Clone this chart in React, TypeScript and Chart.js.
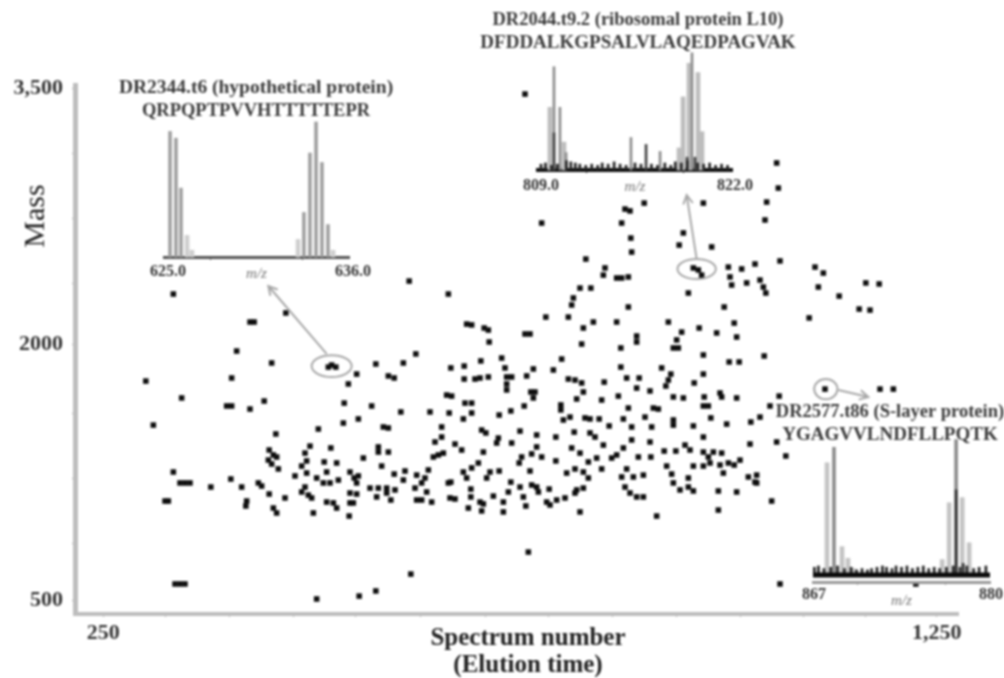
import React, { useEffect, useRef } from "react";
import { Chart, registerables } from "chart.js";

Chart.register(...registerables);

const SERIF = "'Liberation Serif', serif";

// Peptide features: [spectrum number, mass]
const peptidesHighMass: number[][] = [
  [756,3465],[1058,3061],[1060,2914],[1046,2832],[1044,2727],[876,2791],[882,2780],[899,2826],[970,2826],[776,2709],
  [872,2709],[883,2621],[884,2539],[946,2651],[941,2580],[980,2569],[829,2498],[852,2446],[850,2404],[866,2387],
  [872,2387],[880,2393],[958,2446],[964,2434],[968,2404],[1000,2451],[1016,2440],[1032,2469],[1062,2487],[1104,2451],
  [1114,2416],[1002,2393],[1004,2346],[1022,2358],[1038,2375],[1042,2334],[1045,2299],[1108,2334],[1133,2281],[1165,2358],
  [1181,2352],[1157,2205],[1170,2199],[1097,2153],[617,2369],[664,2293],[822,2328],[835,2328],[814,2270],[812,2229],
  [880,2217],[952,2299],[995,2217],[334,2293],[426,2129],[431,2129],[469,2182],[410,1959],
];
const peptidesUpperMiddle: number[][] = [
  [781,2158],[808,2158],[686,2117],[692,2112],[707,2094],[712,2082],[713,2012],[756,2059],[762,2059],[826,2094],
  [838,2129],[866,2129],[824,2000],[928,2129],[944,2070],[938,2024],[934,1977],[940,1977],[965,2094],[986,2065],
  [1007,2123],[1010,2041],[890,2012],[890,2047],[871,1977],[970,1936],[1001,1895],[1013,1895],[800,1912],[703,1901],
  [728,1918],[667,1860],[683,1871],[683,1795],[696,1795],[702,1801],[712,1807],[732,1860],[734,1807],[740,1807],
  [734,1766],[734,1731],[766,1854],[758,1813],[790,1848],[808,1795],[816,1789],[824,1772],[826,1719],[818,1678],
  [851,1777],[871,1865],[878,1801],[893,1801],[890,1742],[906,1725],[920,1860],[931,1824],[925,1754],[928,1789],
  [934,1690],[946,1684],[970,1824],[959,1772],[971,1690],[970,1637],[976,1637],[990,1713],[992,1690],[1010,1684],
  [763,1719],[768,1719],[766,1684],[755,1637],[662,1701],[668,1695],[692,1654],[684,1654],[692,1596],[682,1561],
  [642,1602],[665,1596],[725,1584],[739,1608],[799,1643],[799,1614],[848,1672],[868,1695],[880,1625],[910,1625],
  [916,1619],[802,1555],[810,1572],[828,1567],[834,1561],[845,1561],[874,1561],[900,1572],[857,1520],[884,1514],
  [908,1514],[934,1525],[934,1555],[958,1520],[979,1567],[998,1531],[1027,1543],[1043,1930],
];
const peptidesLowerMiddle: number[][] = [
  [970,1455],[656,1514],[704,1496],[709,1479],[750,1490],[770,1467],[793,1455],[815,1484],[834,1479],[840,1455],
  [648,1426],[672,1414],[680,1379],[652,1350],[646,1338],[658,1361],[724,1449],[722,1420],[740,1420],[706,1367],
  [770,1397],[812,1391],[822,1361],[850,1408],[884,1438],[906,1426],[874,1391],[866,1350],[892,1338],[907,1338],
  [923,1373],[937,1373],[948,1408],[954,1379],[1026,1414],[776,1338],[764,1356],[752,1338],[749,1303],[793,1315],
  [832,1309],[842,1332],[860,1332],[848,1268],[926,1285],[970,1367],[982,1367],[992,1361],[1000,1303],[1014,1320],
  [978,1303],[990,1291],[958,1285],[970,1285],[976,1338],[1007,1291],[994,1244],[1032,1191],[1024,1221],[988,1139],
  [1010,1133],[988,1027],[914,992],[822,1016],[760,781],[932,1238],[934,1186],[952,1215],[952,1162],[942,1145],
  [958,1139],[878,1268],[872,1221],[886,1221],[898,1232],[876,1162],[882,1127],[890,1104],[898,1104],[806,1244],
  [816,1268],[826,1250],[832,1215],[826,1156],[816,1127],[818,1145],[804,1098],[794,1086],[782,1074],[786,1057],
  [785,1150],[770,1162],[772,1133],[764,1174],[750,1162],[739,1191],[736,1133],[754,1104],[757,1051],[730,1074],
  [730,1016],[718,1109],[702,1074],[706,1063],[704,1022],[688,1039],[691,1150],[691,1104],[672,1092],[667,1191],
  [682,1250],[692,1274],[700,1303],[686,1215],[710,1215],[714,1250],[725,1256],[762,1256],[640,1262],[636,1215],
  [632,1186],[638,1133],[644,1074],[632,1086],
];
const peptidesRightEdge: number[][] = [
  [1061,1695],[1050,1637],[1038,1572],[1058,1426],[1069,1344],[1034,1232],[1034,1186],[1052,1080],[1062,594],[1116,1736],
  [1182,1736],[1198,1736],[1225,594],
];
const peptidesLeft: number[][] = [
  [452,1889],[301,1783],[404,1801],[520,1865],[524,1877],[529,1865],[577,1883],[610,1889],[625,1942],[554,1824],
  [544,1766],[592,1813],[599,1801],[344,1684],[398,1637],[404,1637],[426,1619],[443,1666],[539,1654],[572,1637],
  [607,1602],[310,1525],[457,1473],[508,1502],[538,1537],[556,1561],[586,1514],[592,1508],[656,1455],[498,1402],
  [523,1391],[449,1379],[454,1350],[458,1338],[448,1320],[460,1268],[452,1297],[492,1361],[494,1315],[488,1285],
  [480,1227],[494,1244],[515,1309],[530,1303],[518,1250],[562,1332],[580,1397],[580,1367],[592,1367],[584,1285],
  [546,1250],[556,1227],[551,1215],[506,1215],[514,1186],[522,1186],[532,1203],[492,1162],[488,1133],[496,1115],
  [500,1098],[554,1186],[546,1127],[554,1121],[546,1069],[550,1069],[518,1074],[526,1069],[530,1039],[502,1010],
  [545,992],[334,1250],[342,1186],[348,1186],[354,1186],[379,1162],[403,1209],[416,1162],[436,1186],[440,1168],
  [449,1121],[468,1098],[422,1080],[421,1051],[324,1080],[328,1080],[454,1039],[458,1010],[570,1156],[580,1156],
  [590,1156],[600,1145],[578,1104],[590,1127],[595,1086],[599,1238],[612,1256],[610,1203],[626,1232],[624,1156],
  [626,1086],[664,1186],[666,1098],[336,594],[342,594],[348,594],[619,652],[577,553],[557,523],[506,506],
];

const xTickValues = [250,324,401,478,553,631,708,784,861,938,1014,1090,1165,1250];
const xTickLabels: Record<number,string> = { 250: "250", 1250: "1,250" };
const yTickValues = [3500,3119,2738,2357,2000,1595,1214,833,500];
const yTickLabels: Record<number,string> = { 3500: "3,500", 2000: "2000", 500: "500" };
const xAxisTitle = ["Spectrum number", "(Elution time)"];
const yAxisTitle = "Mass";

// Callouts in data units: ellipse [cx, cy, rx, ry], arrow [x0, y0, x1, y1]
const calloutEllipses = [[524,1871,24,64],[962,2440,23,59],[1117,1736,14,59]];
const calloutArrows = [[518,1942,448,2340],[962,2498,950,2873],[1132,1731,1168,1690]];

// Inset 1
const inset1Title = ["DR2344.t6 (hypothetical protein)", "QRPQPTPVVHTTTTTEPR"];
const inset1StrongMz = [625.36,625.71,626.01,633.68,634.04,634.39,634.75,633.32];
const inset1StrongI = [93,88,51,77,100,70,24,33];
const inset1WeakMz = [626.37,626.66,632.97,635.05];
const inset1WeakI = [16,5,13,5];

// Inset 2
const inset2Title = ["DR2044.t9.2 (ribosomal protein L10)", "DFDDALKGPSALVLAQEDPAGVAK"];
const inset2LightMz = [809.8,810.74,818.45,818.72,819.12,819.72,819.99];
const inset2LightI = [54,24,19,63,92,84,33];
const inset2GrayMz = [810.07,810.47,810.88,815.23,817.18,819.32];
const inset2GrayI = [89,54,15,28,16,101];
const inset2DarkMz = [810.07,816.24,818.99,819.52];
const inset2DarkI = [32,22,11,11];
const inset2NoiseMz = [809.2,809.5,809.9,810.3,810.9,811.2,811.5,811.8,812.2,812.6,813,813.3,813.7,814.1,814.5,814.9,815.5,815.9,816.6,817,817.5,817.9,818.2,818.6,819,819.7,820.1,820.5,820.9,821.3,821.7];
const inset2NoiseI = [5,6,4,5,8,7,6,5,4,5,4,6,5,7,5,4,6,5,5,4,6,4,7,6,8,6,5,6,4,5,4];

// Inset 3
const inset3Title = ["DR2577.t86 (S-layer protein)", "YGAGVVLNDFLLPQTK"];
const inset3LightMz = [868.03,869.13,869.57,869.94,876.49,877,877.96,878.47];
const inset3LightI = [87,22,13,5,12,56,60,25];
const inset3GrayMz = [868.54,877.51];
const inset3GrayI = [99,105];
const inset3DarkMz = [877.51,878.03];
const inset3DarkI = [66,9];
const inset3NoiseMz = [867.1,867.4,867.8,868.3,868.8,869.3,869.8,870.2,870.6,871,871.3,871.7,872.1,872.4,872.8,873.1,873.5,873.9,874.3,874.7,875.1,875.5,875.9,876.3,876.8,877.3,877.8,878.3,878.8,879.2,879.7];
const inset3NoiseI = [6,7,5,6,7,5,6,4,5,4,5,6,7,6,5,7,6,7,5,6,7,5,6,5,6,7,6,7,5,6,7];

const pairs = (xs: number[], ys: number[]) => xs.map((x, i) => ({ x, y: ys[i] }));
const toPoints = (list: number[][]) => list.map(([x, y]) => ({ x, y }));

const calloutPlugin = {
  id: "callouts",
  afterDatasetsDraw(chart: any) {
    const { ctx, scales } = chart;
    const { x, y } = scales;
    ctx.save();
    ctx.strokeStyle = "#a8a8a8";
    ctx.lineWidth = 2;
    calloutEllipses.forEach(([cx, cy, rx, ry]) => {
      ctx.beginPath();
      ctx.ellipse(
        x.getPixelForValue(cx), y.getPixelForValue(cy),
        Math.abs(x.getPixelForValue(cx + rx) - x.getPixelForValue(cx)),
        Math.abs(y.getPixelForValue(cy + ry) - y.getPixelForValue(cy)),
        0, 0, Math.PI * 2);
      ctx.stroke();
    });
    calloutArrows.forEach(([x0, y0, x1, y1]) => {
      const ax = x.getPixelForValue(x0), ay = y.getPixelForValue(y0);
      const bx = x.getPixelForValue(x1), by = y.getPixelForValue(y1);
      const a = Math.atan2(by - ay, bx - ax);
      ctx.beginPath();
      ctx.moveTo(ax, ay);
      ctx.lineTo(bx, by);
      ctx.moveTo(bx - 10 * Math.cos(a - 0.5), by - 10 * Math.sin(a - 0.5));
      ctx.lineTo(bx, by);
      ctx.lineTo(bx - 10 * Math.cos(a + 0.5), by - 10 * Math.sin(a + 0.5));
      ctx.stroke();
    });
    ctx.fillStyle = "#222";
    ctx.textAlign = "center";
    ctx.textBaseline = "middle";
    ctx.font = `bold 25px ${SERIF}`;
    ctx.fillText(xAxisTitle[0], 528, 639);
    ctx.fillText(xAxisTitle[1], 528, 666);
    ctx.translate(36, 216);
    ctx.rotate(-Math.PI / 2);
    ctx.font = `30px ${SERIF}`;
    ctx.fillStyle = "#222";
    ctx.fillText(yAxisTitle, 0, 0);
    ctx.restore();
  },
};

const insetTitlePlugin = {
  id: "insetTitle",
  afterDatasetsDraw(chart: any) {
    const { ctx, width } = chart;
    const spec = chart.options.plugins.insetTitle;
    ctx.save();
    ctx.fillStyle = "#3a3a3a";
    ctx.textAlign = "center";
    ctx.textBaseline = "middle";
    spec.lines.forEach((line: string, i: number) => {
      ctx.font = `bold ${spec.sizes[i]}px ${SERIF}`;
      ctx.fillText(line, width / 2, spec.ys[i]);
    });
    ctx.restore();
  },
};

type Series = { mz: number[]; i: number[]; color: string; width: number; order: number };
type InsetSpec = {
  title: string[]; titleSizes: number[];
  left: number; top: number; width: number; height: number;
  padLeft: number; padRight: number; xHeight: number;
  mzMin: number; mzMax: number; labelDigits: number; labelOffset: number;
  yMin: number; axisColor: string; axisWidth: number; labelPad: number; mzPad: number;
  series: Series[];
  baseline?: { color: string; width: number };
};

function buildInset(canvas: HTMLCanvasElement, s: InsetSpec) {
  const mid = (s.mzMin + s.mzMax) / 2;
  const datasets: any[] = s.series.map((d) => ({
    type: "bar",
    data: pairs(d.mz, d.i),
    backgroundColor: d.color,
    barThickness: d.width,
    grouped: false,
    clip: false,
    order: d.order,
  }));
  if (s.baseline) {
    datasets.push({
      type: "line",
      data: [{ x: s.mzMin, y: 0 }, { x: s.mzMax, y: 0 }],
      borderColor: s.baseline.color,
      borderWidth: s.baseline.width,
      pointRadius: 0,
      clip: false,
      order: 0,
    });
  }
  return new Chart(canvas, {
    type: "bar",
    data: { datasets },
    plugins: [insetTitlePlugin],
    options: {
      animation: false,
      responsive: false,
      events: [],
      layout: { padding: { left: s.padLeft, right: s.padRight, top: 46, bottom: 0 } },
      plugins: {
        legend: { display: false },
        tooltip: { enabled: false },
        insetTitle: { lines: s.title, sizes: s.titleSizes, ys: [12, 35] },
      },
      scales: {
        x: {
          type: "linear",
          min: s.mzMin,
          max: s.mzMax,
          offset: false,
          afterFit: (sc: any) => { sc.height = s.xHeight; },
          afterBuildTicks: (sc: any) => { sc.ticks = [s.mzMin, mid, s.mzMax].map((value) => ({ value })); },
          border: { color: s.axisColor, width: s.axisWidth },
          grid: { drawOnChartArea: false, drawTicks: true, tickLength: 3, color: s.axisColor, lineWidth: 1 },
          ticks: {
            autoSkip: false,
            maxRotation: 0,
            padding: s.labelPad,
            labelOffset: s.labelOffset,
            color: "#333",
            font: { family: SERIF, size: 16, weight: "bold" },
            callback: (v: any) => (v === mid ? "" : Number(v).toFixed(s.labelDigits)),
          },
          title: {
            display: true,
            text: "m/z",
            color: "#777",
            padding: { top: 0, bottom: s.mzPad },
            font: { family: SERIF, size: 15, style: "italic" },
          },
        },
        y: { display: false, min: s.yMin, max: 100 },
      },
    } as any,
  });
}

const insets: InsetSpec[] = [
  {
    title: inset1Title, titleSizes: [19.5, 18.5], left: 110, top: 76, width: 292, height: 214,
    padLeft: 54, padRight: 53, xHeight: 33, mzMin: 625, mzMax: 636, labelDigits: 1, labelOffset: 4,
    yMin: 0, axisColor: "#555", axisWidth: 3, labelPad: 2, mzPad: 7,
    series: [
      { mz: inset1StrongMz, i: inset1StrongI, color: "#a0a0a0", width: 3, order: 2 },
      { mz: inset1WeakMz, i: inset1WeakI, color: "#cfcfcf", width: 4, order: 3 },
    ],
  },
  {
    title: inset2Title, titleSizes: [18.5, 19], left: 460, top: 8, width: 356, height: 190,
    padLeft: 78, padRight: 84, xHeight: 28, mzMin: 809, mzMax: 822, labelDigits: 1, labelOffset: 3,
    yMin: 0, axisColor: "#111", axisWidth: 4, labelPad: 3, mzPad: 2,
    series: [
      { mz: inset2LightMz, i: inset2LightI, color: "#bdbdbd", width: 4, order: 4 },
      { mz: inset2GrayMz, i: inset2GrayI, color: "#8c8c8c", width: 2, order: 3 },
      { mz: inset2DarkMz, i: inset2DarkI, color: "#444", width: 2, order: 2 },
      { mz: inset2NoiseMz, i: inset2NoiseI, color: "#222", width: 2, order: 1 },
    ],
  },
  {
    title: inset3Title, titleSizes: [18.5, 19], left: 760, top: 400, width: 260, height: 212,
    padLeft: 53, padRight: 30, xHeight: 30, mzMin: 867, mzMax: 880, labelDigits: 0, labelOffset: 1,
    yMin: -5.4, axisColor: "#999", axisWidth: 3, labelPad: 0, mzPad: 2,
    baseline: { color: "#0a0a0a", width: 5 },
    series: [
      { mz: inset3LightMz, i: inset3LightI, color: "#c4c4c4", width: 4, order: 4 },
      { mz: inset3GrayMz, i: inset3GrayI, color: "#8c8c8c", width: 3, order: 3 },
      { mz: inset3DarkMz, i: inset3DarkI, color: "#333", width: 2, order: 2 },
      { mz: inset3NoiseMz, i: inset3NoiseI, color: "#222", width: 2, order: 1 },
    ],
  },
];

export default function App() {
  const mainRef = useRef<HTMLCanvasElement>(null);
  const insetRefs = useRef<(HTMLCanvasElement | null)[]>([]);

  useEffect(() => {
    document.body.style.margin = "0";
    document.body.style.background = "#fff";
    const charts: Chart[] = [];
    const peptides = [peptidesHighMass, peptidesUpperMiddle, peptidesLowerMiddle, peptidesRightEdge, peptidesLeft];
    charts.push(new Chart(mainRef.current!, {
      type: "scatter",
      data: {
        datasets: peptides.map((list) => ({
          data: toPoints(list),
          pointStyle: "rect",
          pointRadius: 3.9,
          pointBackgroundColor: "#0c0c0c",
          pointBorderWidth: 0,
          showLine: false,
          clip: false,
        })),
      },
      plugins: [calloutPlugin],
      options: {
        animation: false,
        responsive: false,
        events: [],
        layout: { padding: { top: 85, right: 46, left: 0, bottom: 0 } },
        plugins: { legend: { display: false }, tooltip: { enabled: false } },
        scales: {
          x: {
            type: "linear",
            min: 216,
            max: 1275.6,
            afterFit: (sc: any) => { sc.height = 64; },
            afterBuildTicks: (sc: any) => { sc.ticks = xTickValues.map((value) => ({ value })); },
            border: { color: "#bdbdbd", width: 4 },
            grid: { drawOnChartArea: false, drawTicks: true, tickLength: 3, color: "#aaa" },
            ticks: {
              autoSkip: false, maxRotation: 0, padding: 3, color: "#333",
              font: { family: SERIF, size: 22, weight: "bold" },
              callback: (v: any) => xTickLabels[v] ?? "",
            },
          },
          y: {
            type: "linear",
            min: 418,
            max: 3518,
            afterFit: (sc: any) => { sc.width = 75; },
            afterBuildTicks: (sc: any) => { sc.ticks = yTickValues.map((value) => ({ value })); },
            border: { color: "#bdbdbd", width: 5 },
            grid: { drawOnChartArea: false, drawTicks: true, tickLength: 3, color: "#aaa" },
            ticks: {
              autoSkip: false, padding: 9, color: "#333",
              font: { family: SERIF, size: 22, weight: "bold" },
              callback: (v: any) => yTickLabels[v] ?? "",
            },
          },
        },
      } as any,
    }));
    insets.forEach((s, i) => charts.push(buildInset(insetRefs.current[i]!, s)));
    return () => charts.forEach((c) => c.destroy());
  }, []);

  return (
    <div style={{ position: "absolute", left: 0, top: 0, width: 1004, height: 678, overflow: "hidden", background: "#fff" }}>
      <div style={{ position: "absolute", inset: 0, filter: "blur(0.9px)" }}>
        <canvas ref={mainRef} width={1004} height={678} style={{ position: "absolute", left: 0, top: 0 }} />
        {insets.map((s, i) => (
          <canvas
            key={i}
            ref={(el) => { insetRefs.current[i] = el; }}
            width={s.width}
            height={s.height}
            style={{ position: "absolute", left: s.left, top: s.top }}
          />
        ))}
      </div>
    </div>
  );
}
